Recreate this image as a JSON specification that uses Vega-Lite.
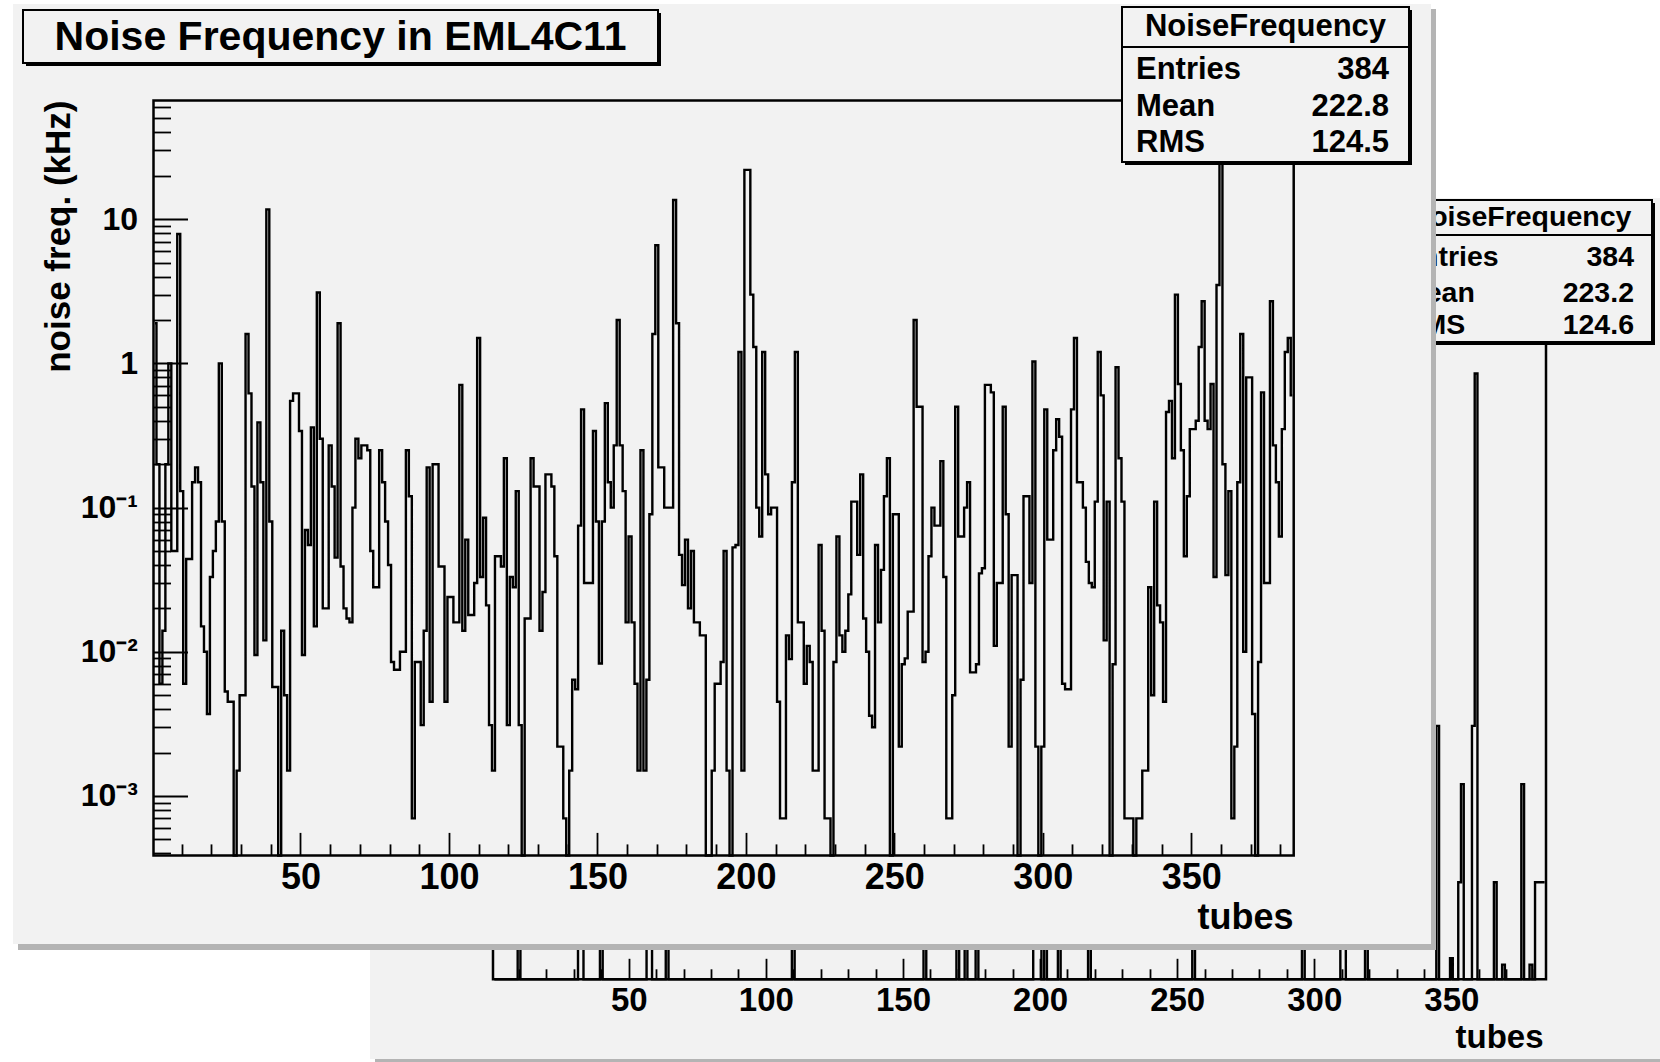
{
"$schema": "https://vega.github.io/schema/vega-lite/v6.json",
"width": 1660, "height": 1062, "autosize": {"type": "none"}, "padding": 0,
"background": "#ffffff",
"config": {"view": {"stroke": null}, "font": "Liberation Sans",
  "axis": {"labelFont": "Liberation Sans", "labelFontWeight": "bold", "labelColor": "#000", "titleFont": "Liberation Sans", "titleFontWeight": "bold", "titleColor": "#000", "tickColor": "#000", "tickWidth": 1.8, "domain": false, "grid": false, "labelOverlap": false, "labelFlush": false, "labelBound": false}},
"datasets": {
"front": [{"t":1,"v":1.9},{"t":2,"v":0.2},{"t":3,"v":0.006},{"t":4,"v":0.014},{"t":5,"v":0.2},{"t":6,"v":1.0},{"t":7,"v":0.05},{"t":8,"v":0.05},{"t":9,"v":7.9},{"t":10,"v":0.13},
{"t":11,"v":0.006},{"t":12,"v":0.044},{"t":13,"v":0.044},{"t":14,"v":0.15},{"t":15,"v":0.19},{"t":16,"v":0.15},{"t":17,"v":0.015},{"t":18,"v":0.01},{"t":19,"v":0.0037},{"t":20,"v":0.033},
{"t":21,"v":0.05},{"t":22,"v":0.08},{"t":23,"v":1.0},{"t":24,"v":0.08},{"t":25,"v":0.0053},{"t":26,"v":0.0045},{"t":27,"v":0.0045},{"t":28,"v":0.000387},{"t":29,"v":0.0015},{"t":30,"v":0.005},
{"t":31,"v":0.005},{"t":32,"v":1.6},{"t":33,"v":0.62},{"t":34,"v":0.14},{"t":35,"v":0.0095},{"t":36,"v":0.39},{"t":37,"v":0.15},{"t":38,"v":0.012},{"t":39,"v":11.7},{"t":40,"v":0.08},
{"t":41,"v":0.0057},{"t":42,"v":0.0057},{"t":43,"v":0.000387},{"t":44,"v":0.014},{"t":45,"v":0.005},{"t":46,"v":0.0015},{"t":47,"v":0.55},{"t":48,"v":0.62},{"t":49,"v":0.62},{"t":50,"v":0.34},
{"t":51,"v":0.0095},{"t":52,"v":0.07},{"t":53,"v":0.055},{"t":54,"v":0.36},{"t":55,"v":0.015},{"t":56,"v":3.1},{"t":57,"v":0.3},{"t":58,"v":0.02},{"t":59,"v":0.02},{"t":60,"v":0.27},
{"t":61,"v":0.14},{"t":62,"v":0.045},{"t":63,"v":1.9},{"t":64,"v":0.039},{"t":65,"v":0.02},{"t":66,"v":0.017},{"t":67,"v":0.016},{"t":68,"v":0.1},{"t":69,"v":0.3},{"t":70,"v":0.22},
{"t":71,"v":0.27},{"t":72,"v":0.27},{"t":73,"v":0.25},{"t":74,"v":0.05},{"t":75,"v":0.028},{"t":76,"v":0.028},{"t":77,"v":0.25},{"t":78,"v":0.15},{"t":79,"v":0.08},{"t":80,"v":0.04},
{"t":81,"v":0.0085},{"t":82,"v":0.0075},{"t":83,"v":0.0075},{"t":84,"v":0.01},{"t":85,"v":0.01},{"t":86,"v":0.25},{"t":87,"v":0.12},{"t":88,"v":0.0007},{"t":89,"v":0.0085},{"t":90,"v":0.0085},
{"t":91,"v":0.0031},{"t":92,"v":0.014},{"t":93,"v":0.19},{"t":94,"v":0.0045},{"t":95,"v":0.2},{"t":96,"v":0.2},{"t":97,"v":0.039},{"t":98,"v":0.039},{"t":99,"v":0.0045},{"t":100,"v":0.024},
{"t":101,"v":0.024},{"t":102,"v":0.016},{"t":103,"v":0.016},{"t":104,"v":0.71},{"t":105,"v":0.014},{"t":106,"v":0.06},{"t":107,"v":0.018},{"t":108,"v":0.018},{"t":109,"v":0.03},{"t":110,"v":1.5},
{"t":111,"v":0.033},{"t":112,"v":0.085},{"t":113,"v":0.021},{"t":114,"v":0.0031},{"t":115,"v":0.0015},{"t":116,"v":0.046},{"t":117,"v":0.046},{"t":118,"v":0.039},{"t":119,"v":0.22},{"t":120,"v":0.0031},
{"t":121,"v":0.033},{"t":122,"v":0.028},{"t":123,"v":0.13},{"t":124,"v":0.0031},{"t":125,"v":0.000387},{"t":126,"v":0.017},{"t":127,"v":0.017},{"t":128,"v":0.22},{"t":129,"v":0.14},{"t":130,"v":0.14},
{"t":131,"v":0.014},{"t":132,"v":0.026},{"t":133,"v":0.17},{"t":134,"v":0.17},{"t":135,"v":0.14},{"t":136,"v":0.046},{"t":137,"v":0.0022},{"t":138,"v":0.0022},{"t":139,"v":0.0007},{"t":140,"v":0.000387},
{"t":141,"v":0.0015},{"t":142,"v":0.0064},{"t":143,"v":0.0055},{"t":144,"v":0.075},{"t":145,"v":0.48},{"t":146,"v":0.03},{"t":147,"v":0.03},{"t":148,"v":0.03},{"t":149,"v":0.34},{"t":150,"v":0.08},
{"t":151,"v":0.0083},{"t":152,"v":0.08},{"t":153,"v":0.53},{"t":154,"v":0.15},{"t":155,"v":0.1},{"t":156,"v":0.27},{"t":157,"v":2.0},{"t":158,"v":0.27},{"t":159,"v":0.13},{"t":160,"v":0.016},
{"t":161,"v":0.063},{"t":162,"v":0.016},{"t":163,"v":0.006},{"t":164,"v":0.0015},{"t":165,"v":0.25},{"t":166,"v":0.0015},{"t":167,"v":0.0064},{"t":168,"v":0.09},{"t":169,"v":1.6},{"t":170,"v":6.6},
{"t":171,"v":0.19},{"t":172,"v":0.19},{"t":173,"v":0.1},{"t":174,"v":0.1},{"t":175,"v":0.1},{"t":176,"v":13.6},{"t":177,"v":1.9},{"t":178,"v":0.047},{"t":179,"v":0.029},{"t":180,"v":0.06},
{"t":181,"v":0.02},{"t":182,"v":0.05},{"t":183,"v":0.016},{"t":184,"v":0.016},{"t":185,"v":0.013},{"t":186,"v":0.013},{"t":187,"v":0.000387},{"t":188,"v":0.000387},{"t":189,"v":0.0015},{"t":190,"v":0.006},
{"t":191,"v":0.006},{"t":192,"v":0.0085},{"t":193,"v":0.05},{"t":194,"v":0.0015},{"t":195,"v":0.000387},{"t":196,"v":0.053},{"t":197,"v":0.055},{"t":198,"v":1.2},{"t":199,"v":0.0015},{"t":200,"v":22},
{"t":201,"v":22},{"t":202,"v":3.0},{"t":203,"v":1.3},{"t":204,"v":0.1},{"t":205,"v":0.063},{"t":206,"v":1.2},{"t":207,"v":0.17},{"t":208,"v":0.09},{"t":209,"v":0.1},{"t":210,"v":0.1},
{"t":211,"v":0.0045},{"t":212,"v":0.0007},{"t":213,"v":0.0007},{"t":214,"v":0.013},{"t":215,"v":0.0089},{"t":216,"v":0.15},{"t":217,"v":1.2},{"t":218,"v":0.016},{"t":219,"v":0.016},{"t":220,"v":0.006},
{"t":221,"v":0.011},{"t":222,"v":0.0085},{"t":223,"v":0.0015},{"t":224,"v":0.0015},{"t":225,"v":0.055},{"t":226,"v":0.014},{"t":227,"v":0.0007},{"t":228,"v":0.0007},{"t":229,"v":0.000387},{"t":230,"v":0.0085},
{"t":231,"v":0.063},{"t":232,"v":0.013},{"t":233,"v":0.01},{"t":234,"v":0.014},{"t":235,"v":0.025},{"t":236,"v":0.11},{"t":237,"v":0.11},{"t":238,"v":0.047},{"t":239,"v":0.17},{"t":240,"v":0.017},
{"t":241,"v":0.01},{"t":242,"v":0.0036},{"t":243,"v":0.003},{"t":244,"v":0.055},{"t":245,"v":0.016},{"t":246,"v":0.037},{"t":247,"v":0.12},{"t":248,"v":0.22},{"t":249,"v":0.000387},{"t":250,"v":0.09},
{"t":251,"v":0.09},{"t":252,"v":0.0022},{"t":253,"v":0.0082},{"t":254,"v":0.009},{"t":255,"v":0.019},{"t":256,"v":0.019},{"t":257,"v":2.0},{"t":258,"v":0.5},{"t":259,"v":0.5},{"t":260,"v":0.0085},
{"t":261,"v":0.01},{"t":262,"v":0.046},{"t":263,"v":0.1},{"t":264,"v":0.075},{"t":265,"v":0.075},{"t":266,"v":0.21},{"t":267,"v":0.033},{"t":268,"v":0.0007},{"t":269,"v":0.0007},{"t":270,"v":0.005},
{"t":271,"v":0.5},{"t":272,"v":0.063},{"t":273,"v":0.063},{"t":274,"v":0.1},{"t":275,"v":0.15},{"t":276,"v":0.0072},{"t":277,"v":0.0072},{"t":278,"v":0.0082},{"t":279,"v":0.035},{"t":280,"v":0.038},
{"t":281,"v":0.71},{"t":282,"v":0.71},{"t":283,"v":0.63},{"t":284,"v":0.011},{"t":285,"v":0.03},{"t":286,"v":0.03},{"t":287,"v":0.5},{"t":288,"v":0.09},{"t":289,"v":0.0022},{"t":290,"v":0.034},
{"t":291,"v":0.034},{"t":292,"v":0.000387},{"t":293,"v":0.0064},{"t":294,"v":0.12},{"t":295,"v":0.12},{"t":296,"v":0.03},{"t":297,"v":1.03},{"t":298,"v":0.0022},{"t":299,"v":0.000387},{"t":300,"v":0.0022},
{"t":301,"v":0.48},{"t":302,"v":0.06},{"t":303,"v":0.06},{"t":304,"v":0.25},{"t":305,"v":0.41},{"t":306,"v":0.31},{"t":307,"v":0.006},{"t":308,"v":0.0055},{"t":309,"v":0.0055},{"t":310,"v":0.48},
{"t":311,"v":1.5},{"t":312,"v":0.15},{"t":313,"v":0.15},{"t":314,"v":0.1},{"t":315,"v":0.042},{"t":316,"v":0.03},{"t":317,"v":0.028},{"t":318,"v":0.11},{"t":319,"v":1.2},{"t":320,"v":0.6},
{"t":321,"v":0.012},{"t":322,"v":0.11},{"t":323,"v":0.000387},{"t":324,"v":0.0082},{"t":325,"v":0.94},{"t":326,"v":0.22},{"t":327,"v":0.11},{"t":328,"v":0.0007},{"t":329,"v":0.0007},{"t":330,"v":0.0007},
{"t":331,"v":0.000387},{"t":332,"v":0.0007},{"t":333,"v":0.0007},{"t":334,"v":0.0015},{"t":335,"v":0.0015},{"t":336,"v":0.028},{"t":337,"v":0.005},{"t":338,"v":0.11},{"t":339,"v":0.021},{"t":340,"v":0.016},
{"t":341,"v":0.0045},{"t":342,"v":0.46},{"t":343,"v":0.55},{"t":344,"v":0.22},{"t":345,"v":3.0},{"t":346,"v":0.72},{"t":347,"v":0.25},{"t":348,"v":0.046},{"t":349,"v":0.12},{"t":350,"v":0.35},
{"t":351,"v":0.35},{"t":352,"v":0.4},{"t":353,"v":1.3},{"t":354,"v":2.7},{"t":355,"v":0.4},{"t":356,"v":0.35},{"t":357,"v":0.72},{"t":358,"v":0.033},{"t":359,"v":3.5},{"t":360,"v":30},
{"t":361,"v":0.2},{"t":362,"v":0.034},{"t":363,"v":0.13},{"t":364,"v":0.0007},{"t":365,"v":0.0022},{"t":366,"v":0.15},{"t":367,"v":1.6},{"t":368,"v":0.01},{"t":369,"v":0.8},{"t":370,"v":0.8},
{"t":371,"v":0.0037},{"t":372,"v":0.000387},{"t":373,"v":0.0085},{"t":374,"v":0.63},{"t":375,"v":0.03},{"t":376,"v":0.03},{"t":377,"v":2.7},{"t":378,"v":0.27},{"t":379,"v":0.15},{"t":380,"v":0.063},
{"t":381,"v":0.35},{"t":382,"v":1.2},{"t":383,"v":1.5},{"t":384,"v":0.6}],
"back": [{"t":1,"v":0.000387},{"t":2,"v":0.000387},{"t":3,"v":0.000387},{"t":4,"v":0.000387},{"t":5,"v":0.000387},{"t":6,"v":0.000387},{"t":7,"v":0.000387},{"t":8,"v":0.000387},{"t":9,"v":0.000387},{"t":10,"v":0.03},
{"t":11,"v":0.000387},{"t":12,"v":0.000387},{"t":13,"v":0.000387},{"t":14,"v":0.000387},{"t":15,"v":0.000387},{"t":16,"v":0.000387},{"t":17,"v":0.000387},{"t":18,"v":0.000387},{"t":19,"v":0.000387},{"t":20,"v":0.000387},
{"t":21,"v":0.000387},{"t":22,"v":0.000387},{"t":23,"v":0.000387},{"t":24,"v":0.000387},{"t":25,"v":0.000387},{"t":26,"v":0.000387},{"t":27,"v":0.000387},{"t":28,"v":0.000387},{"t":29,"v":0.000387},{"t":30,"v":0.000387},
{"t":31,"v":0.000387},{"t":32,"v":0.05},{"t":33,"v":0.02},{"t":34,"v":0.000387},{"t":35,"v":0.000387},{"t":36,"v":0.000387},{"t":37,"v":0.000387},{"t":38,"v":0.000387},{"t":39,"v":0.000387},{"t":40,"v":0.2},
{"t":41,"v":0.000387},{"t":42,"v":0.000387},{"t":43,"v":0.000387},{"t":44,"v":0.000387},{"t":45,"v":0.000387},{"t":46,"v":0.000387},{"t":47,"v":0.000387},{"t":48,"v":0.000387},{"t":49,"v":0.000387},{"t":50,"v":0.000387},
{"t":51,"v":0.000387},{"t":52,"v":0.000387},{"t":53,"v":0.000387},{"t":54,"v":0.000387},{"t":55,"v":0.000387},{"t":56,"v":0.000387},{"t":57,"v":0.03},{"t":58,"v":0.01},{"t":59,"v":0.000387},{"t":60,"v":0.000387},
{"t":61,"v":0.000387},{"t":62,"v":0.000387},{"t":63,"v":0.000387},{"t":64,"v":0.08},{"t":65,"v":0.000387},{"t":66,"v":0.000387},{"t":67,"v":0.000387},{"t":68,"v":0.000387},{"t":69,"v":0.000387},{"t":70,"v":0.000387},
{"t":71,"v":0.000387},{"t":72,"v":0.000387},{"t":73,"v":0.000387},{"t":74,"v":0.000387},{"t":75,"v":0.000387},{"t":76,"v":0.000387},{"t":77,"v":0.000387},{"t":78,"v":0.000387},{"t":79,"v":0.000387},{"t":80,"v":0.000387},
{"t":81,"v":0.000387},{"t":82,"v":0.000387},{"t":83,"v":0.000387},{"t":84,"v":0.000387},{"t":85,"v":0.000387},{"t":86,"v":0.000387},{"t":87,"v":0.000387},{"t":88,"v":0.000387},{"t":89,"v":0.000387},{"t":90,"v":0.000387},
{"t":91,"v":0.000387},{"t":92,"v":0.000387},{"t":93,"v":0.000387},{"t":94,"v":0.000387},{"t":95,"v":0.000387},{"t":96,"v":0.000387},{"t":97,"v":0.000387},{"t":98,"v":0.000387},{"t":99,"v":0.000387},{"t":100,"v":0.000387},
{"t":101,"v":0.000387},{"t":102,"v":0.000387},{"t":103,"v":0.000387},{"t":104,"v":0.000387},{"t":105,"v":0.000387},{"t":106,"v":0.000387},{"t":107,"v":0.000387},{"t":108,"v":0.000387},{"t":109,"v":0.000387},{"t":110,"v":0.4},
{"t":111,"v":0.000387},{"t":112,"v":0.000387},{"t":113,"v":0.000387},{"t":114,"v":0.000387},{"t":115,"v":0.000387},{"t":116,"v":0.000387},{"t":117,"v":0.000387},{"t":118,"v":0.000387},{"t":119,"v":0.000387},{"t":120,"v":0.000387},
{"t":121,"v":0.000387},{"t":122,"v":0.000387},{"t":123,"v":0.000387},{"t":124,"v":0.000387},{"t":125,"v":0.000387},{"t":126,"v":0.000387},{"t":127,"v":0.000387},{"t":128,"v":0.000387},{"t":129,"v":0.000387},{"t":130,"v":0.000387},
{"t":131,"v":0.000387},{"t":132,"v":0.000387},{"t":133,"v":0.000387},{"t":134,"v":0.000387},{"t":135,"v":0.000387},{"t":136,"v":0.000387},{"t":137,"v":0.000387},{"t":138,"v":0.000387},{"t":139,"v":0.000387},{"t":140,"v":0.000387},
{"t":141,"v":0.000387},{"t":142,"v":0.000387},{"t":143,"v":0.000387},{"t":144,"v":0.000387},{"t":145,"v":0.000387},{"t":146,"v":0.000387},{"t":147,"v":0.000387},{"t":148,"v":0.000387},{"t":149,"v":0.000387},{"t":150,"v":0.000387},
{"t":151,"v":0.000387},{"t":152,"v":0.000387},{"t":153,"v":0.000387},{"t":154,"v":0.000387},{"t":155,"v":0.000387},{"t":156,"v":0.000387},{"t":157,"v":0.000387},{"t":158,"v":0.05},{"t":159,"v":0.000387},{"t":160,"v":0.000387},
{"t":161,"v":0.000387},{"t":162,"v":0.000387},{"t":163,"v":0.000387},{"t":164,"v":0.000387},{"t":165,"v":0.000387},{"t":166,"v":0.000387},{"t":167,"v":0.000387},{"t":168,"v":0.000387},{"t":169,"v":0.000387},{"t":170,"v":0.02},
{"t":171,"v":0.000387},{"t":172,"v":0.000387},{"t":173,"v":0.01},{"t":174,"v":0.000387},{"t":175,"v":0.000387},{"t":176,"v":0.000387},{"t":177,"v":0.03},{"t":178,"v":0.000387},{"t":179,"v":0.000387},{"t":180,"v":0.000387},
{"t":181,"v":0.000387},{"t":182,"v":0.000387},{"t":183,"v":0.000387},{"t":184,"v":0.000387},{"t":185,"v":0.000387},{"t":186,"v":0.000387},{"t":187,"v":0.000387},{"t":188,"v":0.000387},{"t":189,"v":0.000387},{"t":190,"v":0.000387},
{"t":191,"v":0.000387},{"t":192,"v":0.000387},{"t":193,"v":0.000387},{"t":194,"v":0.000387},{"t":195,"v":0.000387},{"t":196,"v":0.000387},{"t":197,"v":0.000387},{"t":198,"v":0.02},{"t":199,"v":0.3},{"t":200,"v":0.01},
{"t":201,"v":0.000387},{"t":202,"v":0.05},{"t":203,"v":0.000387},{"t":204,"v":0.000387},{"t":205,"v":0.000387},{"t":206,"v":0.000387},{"t":207,"v":0.02},{"t":208,"v":0.000387},{"t":209,"v":0.000387},{"t":210,"v":0.000387},
{"t":211,"v":0.000387},{"t":212,"v":0.000387},{"t":213,"v":0.000387},{"t":214,"v":0.000387},{"t":215,"v":0.000387},{"t":216,"v":0.000387},{"t":217,"v":0.000387},{"t":218,"v":0.1},{"t":219,"v":0.000387},{"t":220,"v":0.000387},
{"t":221,"v":0.000387},{"t":222,"v":0.000387},{"t":223,"v":0.000387},{"t":224,"v":0.000387},{"t":225,"v":0.000387},{"t":226,"v":0.000387},{"t":227,"v":0.000387},{"t":228,"v":0.000387},{"t":229,"v":0.000387},{"t":230,"v":0.000387},
{"t":231,"v":0.000387},{"t":232,"v":0.000387},{"t":233,"v":0.000387},{"t":234,"v":0.000387},{"t":235,"v":0.000387},{"t":236,"v":0.000387},{"t":237,"v":0.000387},{"t":238,"v":0.000387},{"t":239,"v":0.000387},{"t":240,"v":0.000387},
{"t":241,"v":0.000387},{"t":242,"v":0.000387},{"t":243,"v":0.000387},{"t":244,"v":0.000387},{"t":245,"v":0.000387},{"t":246,"v":0.000387},{"t":247,"v":0.000387},{"t":248,"v":0.000387},{"t":249,"v":0.000387},{"t":250,"v":0.000387},
{"t":251,"v":0.000387},{"t":252,"v":0.000387},{"t":253,"v":0.000387},{"t":254,"v":0.000387},{"t":255,"v":0.000387},{"t":256,"v":0.04},{"t":257,"v":0.000387},{"t":258,"v":0.000387},{"t":259,"v":0.000387},{"t":260,"v":0.000387},
{"t":261,"v":0.000387},{"t":262,"v":0.000387},{"t":263,"v":0.000387},{"t":264,"v":0.000387},{"t":265,"v":0.000387},{"t":266,"v":0.000387},{"t":267,"v":0.000387},{"t":268,"v":0.000387},{"t":269,"v":0.000387},{"t":270,"v":0.000387},
{"t":271,"v":0.000387},{"t":272,"v":0.000387},{"t":273,"v":0.000387},{"t":274,"v":0.000387},{"t":275,"v":0.000387},{"t":276,"v":0.000387},{"t":277,"v":0.000387},{"t":278,"v":0.000387},{"t":279,"v":0.000387},{"t":280,"v":0.000387},
{"t":281,"v":0.000387},{"t":282,"v":0.000387},{"t":283,"v":0.000387},{"t":284,"v":0.000387},{"t":285,"v":0.000387},{"t":286,"v":0.000387},{"t":287,"v":0.000387},{"t":288,"v":0.000387},{"t":289,"v":0.000387},{"t":290,"v":0.000387},
{"t":291,"v":0.000387},{"t":292,"v":0.000387},{"t":293,"v":0.000387},{"t":294,"v":0.000387},{"t":295,"v":0.000387},{"t":296,"v":0.03},{"t":297,"v":0.000387},{"t":298,"v":0.000387},{"t":299,"v":0.000387},{"t":300,"v":0.000387},
{"t":301,"v":0.000387},{"t":302,"v":0.000387},{"t":303,"v":0.000387},{"t":304,"v":0.000387},{"t":305,"v":0.000387},{"t":306,"v":0.000387},{"t":307,"v":0.000387},{"t":308,"v":0.000387},{"t":309,"v":0.000387},{"t":310,"v":0.02},
{"t":311,"v":0.01},{"t":312,"v":0.000387},{"t":313,"v":0.000387},{"t":314,"v":0.000387},{"t":315,"v":0.000387},{"t":316,"v":0.000387},{"t":317,"v":0.000387},{"t":318,"v":0.000387},{"t":319,"v":0.05},{"t":320,"v":0.000387},
{"t":321,"v":0.000387},{"t":322,"v":0.000387},{"t":323,"v":0.000387},{"t":324,"v":0.000387},{"t":325,"v":0.000387},{"t":326,"v":0.000387},{"t":327,"v":0.000387},{"t":328,"v":0.000387},{"t":329,"v":0.000387},{"t":330,"v":0.000387},
{"t":331,"v":0.000387},{"t":332,"v":0.000387},{"t":333,"v":0.000387},{"t":334,"v":0.000387},{"t":335,"v":0.000387},{"t":336,"v":0.000387},{"t":337,"v":0.000387},{"t":338,"v":0.000387},{"t":339,"v":0.000387},{"t":340,"v":0.000387},
{"t":341,"v":0.000387},{"t":342,"v":0.000387},{"t":343,"v":0.000387},{"t":344,"v":0.000387},{"t":345,"v":0.032},{"t":346,"v":0.000387},{"t":347,"v":0.000387},{"t":348,"v":0.000387},{"t":349,"v":0.000387},{"t":350,"v":0.00056},
{"t":351,"v":0.000387},{"t":352,"v":0.000387},{"t":353,"v":0.0021},{"t":354,"v":0.0116},{"t":355,"v":0.000387},{"t":356,"v":0.000387},{"t":357,"v":0.000387},{"t":358,"v":0.032},{"t":359,"v":14.8},{"t":360,"v":0.000387},
{"t":361,"v":0.000387},{"t":362,"v":0.000387},{"t":363,"v":0.000387},{"t":364,"v":0.000387},{"t":365,"v":0.000387},{"t":366,"v":0.0021},{"t":367,"v":0.000387},{"t":368,"v":0.000387},{"t":369,"v":0.0005},{"t":370,"v":0.000387},
{"t":371,"v":0.000387},{"t":372,"v":0.000387},{"t":373,"v":0.000387},{"t":374,"v":0.000387},{"t":375,"v":0.000387},{"t":376,"v":0.0116},{"t":377,"v":0.000387},{"t":378,"v":0.000387},{"t":379,"v":0.0005},{"t":380,"v":0.000387},
{"t":381,"v":0.0021},{"t":382,"v":0.0021},{"t":383,"v":0.0021},{"t":384,"v":0.0021}],
"statsFront": [{"label":"Entries","value":"384"},{"label":"Mean","value":"222.8"},{"label":"RMS","value":"124.5"}],
"statsBack": [{"label":"Entries","value":"384"},{"label":"Mean","value":"223.2"},{"label":"RMS","value":"124.6"}]
},
"layer": [
{"data": {"values": [{}]},
 "layer": [
  {"mark": {"type": "rect", "fill": "#b4b4b4"},
   "encoding": {"x": {"datum": 0.003849, "type": "quantitative", "scale": {"domain": [-0.284834, 0.993072], "nice": false, "zero": false}, "axis": null}, "x2": {"datum": 1.003849},
                "y": {"datum": -0.005807, "type": "quantitative", "scale": {"domain": [-0.003484, 1.229965], "nice": false, "zero": false}, "axis": null}, "y2": {"datum": 0.994193}}},
  {"mark": {"type": "rect", "fill": "#f2f2f2"},
   "encoding": {"x": {"datum": 0, "type": "quantitative", "scale": {"domain": [-0.284834, 0.993072], "nice": false, "zero": false}, "axis": null}, "x2": {"datum": 1},
                "y": {"datum": 0, "type": "quantitative", "scale": {"domain": [-0.003484, 1.229965], "nice": false, "zero": false}, "axis": null}, "y2": {"datum": 1}}}
 ]},
{"data": {"name": "back"},
 "mark": {"type": "line", "interpolate": "step", "stroke": "#000", "strokeWidth": 2.4},
 "encoding": {
   "x": {"field": "t", "type": "quantitative", "scale": {"domain": [-179.28, 426.07], "nice": false, "zero": false},
         "axis": {"orient": "bottom", "offset": -82.7, "zindex": 1, "values": [10,20,30,40,50,60,70,80,90,100,110,120,130,140,150,160,170,180,190,200,210,220,230,240,250,260,270,280,290,300,310,320,330,340,350,360,370,380],
                  "format": "d", "labelExpr": "datum.value % 50 == 0 ? datum.label : ''",
                  "tickSize": {"condition": {"test": "datum.value % 50 == 0", "value": -21}, "value": -10.5},
                  "labelFontSize": 33, "labelPadding": 26,
                  "title": "tubes", "titleFontSize": 33, "titleX": 1543, "titleY": 57.7, "titleAlign": "right", "titleBaseline": "middle"}},
   "y": {"field": "v", "type": "quantitative", "scale": {"type": "log", "domain": [9.172e-5, 9901], "nice": false}, "axis": null}}},
{"data": {"values": [{}]},
 "mark": {"type": "rect", "fillOpacity": 0, "stroke": "#000", "strokeWidth": 2.5},
 "encoding": {"x": {"datum": 0.5, "type": "quantitative", "scale": {"domain": [-179.28, 426.07], "nice": false, "zero": false}, "axis": null}, "x2": {"datum": 384.5},
              "y": {"datum": 0.000387, "type": "quantitative", "scale": {"type": "log", "domain": [9.172e-5, 9901], "nice": false}, "axis": null}, "y2": {"datum": 67.4}}},
{"layer": [
  {"data": {"values": [{}]}, "mark": {"type": "rect", "fill": "#000"},
   "encoding": {"x": {"datum": 0.78676, "type": "quantitative", "scale": {"domain": [-0.284834, 0.993072], "nice": false, "zero": false}, "axis": null}, "x2": {"datum": 0.98922},
                "y": {"datum": 0.82927, "type": "quantitative", "scale": {"domain": [-0.003484, 1.229965], "nice": false, "zero": false}, "axis": null}, "y2": {"datum": 0.99419}}},
  {"data": {"values": [{}]}, "mark": {"type": "rect", "fill": "#f2f2f2", "stroke": "#000", "strokeWidth": 2},
   "encoding": {"x": {"datum": 0.78445, "type": "quantitative", "scale": {"domain": [-0.284834, 0.993072], "nice": false, "zero": false}, "axis": null}, "x2": {"datum": 0.98691},
                "y": {"datum": 0.83275, "type": "quantitative", "scale": {"domain": [-0.003484, 1.229965], "nice": false, "zero": false}, "axis": null}, "y2": {"datum": 0.99768}}},
  {"data": {"values": [{}]}, "mark": {"type": "rule", "stroke": "#000", "strokeWidth": 2},
   "encoding": {"x": {"datum": 0.78445, "type": "quantitative", "scale": {"domain": [-0.284834, 0.993072], "nice": false, "zero": false}, "axis": null}, "x2": {"datum": 0.98691},
                "y": {"datum": 0.95703, "type": "quantitative", "scale": {"domain": [-0.003484, 1.229965], "nice": false, "zero": false}, "axis": null}}},
  {"data": {"values": [{}]}, "mark": {"type": "text", "text": "NoiseFrequency", "font": "Liberation Sans", "fontWeight": "bold", "fontSize": 28.5, "align": "center", "baseline": "middle", "color": "#000"},
   "encoding": {"x": {"datum": 0.88568, "type": "quantitative", "scale": {"domain": [-0.284834, 0.993072], "nice": false, "zero": false}, "axis": null},
                "y": {"datum": 0.97793, "type": "quantitative", "scale": {"domain": [-0.003484, 1.229965], "nice": false, "zero": false}, "axis": null}}},
  {"data": {"name": "statsBack"}, "transform": [{"filter": "datum.label == 'Entries'"}],
   "layer": [
    {"mark": {"type": "text", "font": "Liberation Sans", "fontWeight": "bold", "fontSize": 28.5, "align": "left", "baseline": "middle", "color": "#000"},
     "encoding": {"x": {"datum": 0.79446, "type": "quantitative", "scale": {"domain": [-0.284834, 0.993072], "nice": false, "zero": false}, "axis": null},
                  "y": {"datum": 0.93148, "type": "quantitative", "scale": {"domain": [-0.003484, 1.229965], "nice": false, "zero": false}, "axis": null}, "text": {"field": "label"}}},
    {"mark": {"type": "text", "font": "Liberation Sans", "fontWeight": "bold", "fontSize": 28.5, "align": "right", "baseline": "middle", "color": "#000"},
     "encoding": {"x": {"datum": 0.97305, "type": "quantitative", "scale": {"domain": [-0.284834, 0.993072], "nice": false, "zero": false}, "axis": null},
                  "y": {"datum": 0.93148, "type": "quantitative", "scale": {"domain": [-0.003484, 1.229965], "nice": false, "zero": false}, "axis": null}, "text": {"field": "value"}}}
   ]},
  {"data": {"name": "statsBack"}, "transform": [{"filter": "datum.label == 'Mean'"}],
   "layer": [
    {"mark": {"type": "text", "font": "Liberation Sans", "fontWeight": "bold", "fontSize": 28.5, "align": "left", "baseline": "middle", "color": "#000"},
     "encoding": {"x": {"datum": 0.79446, "type": "quantitative", "scale": {"domain": [-0.284834, 0.993072], "nice": false, "zero": false}, "axis": null},
                  "y": {"datum": 0.88966, "type": "quantitative", "scale": {"domain": [-0.003484, 1.229965], "nice": false, "zero": false}, "axis": null}, "text": {"field": "label"}}},
    {"mark": {"type": "text", "font": "Liberation Sans", "fontWeight": "bold", "fontSize": 28.5, "align": "right", "baseline": "middle", "color": "#000"},
     "encoding": {"x": {"datum": 0.97305, "type": "quantitative", "scale": {"domain": [-0.284834, 0.993072], "nice": false, "zero": false}, "axis": null},
                  "y": {"datum": 0.88966, "type": "quantitative", "scale": {"domain": [-0.003484, 1.229965], "nice": false, "zero": false}, "axis": null}, "text": {"field": "value"}}}
   ]},
  {"data": {"name": "statsBack"}, "transform": [{"filter": "datum.label == 'RMS'"}],
   "layer": [
    {"mark": {"type": "text", "font": "Liberation Sans", "fontWeight": "bold", "fontSize": 28.5, "align": "left", "baseline": "middle", "color": "#000"},
     "encoding": {"x": {"datum": 0.79446, "type": "quantitative", "scale": {"domain": [-0.284834, 0.993072], "nice": false, "zero": false}, "axis": null},
                  "y": {"datum": 0.85250, "type": "quantitative", "scale": {"domain": [-0.003484, 1.229965], "nice": false, "zero": false}, "axis": null}, "text": {"field": "label"}}},
    {"mark": {"type": "text", "font": "Liberation Sans", "fontWeight": "bold", "fontSize": 28.5, "align": "right", "baseline": "middle", "color": "#000"},
     "encoding": {"x": {"datum": 0.97305, "type": "quantitative", "scale": {"domain": [-0.284834, 0.993072], "nice": false, "zero": false}, "axis": null},
                  "y": {"datum": 0.85250, "type": "quantitative", "scale": {"domain": [-0.003484, 1.229965], "nice": false, "zero": false}, "axis": null}, "text": {"field": "value"}}}
   ]}
 ]},
{"data": {"values": [{}]},
 "layer": [
  {"mark": {"type": "rect", "fill": "#b4b4b4"},
   "encoding": {"x": {"datum": 0.003526, "type": "quantitative", "scale": {"domain": [-0.009168, 1.161495], "nice": false, "zero": false}, "axis": null}, "x2": {"datum": 1.003526},
                "y": {"datum": -0.006383, "type": "quantitative", "scale": {"domain": [-0.125532, 1.004255], "nice": false, "zero": false}, "axis": null}, "y2": {"datum": 0.994681}}},
  {"mark": {"type": "rect", "fill": "#f2f2f2"},
   "encoding": {"x": {"datum": 0, "type": "quantitative", "scale": {"domain": [-0.009168, 1.161495], "nice": false, "zero": false}, "axis": null}, "x2": {"datum": 1},
                "y": {"datum": 0, "type": "quantitative", "scale": {"domain": [-0.125532, 1.004255], "nice": false, "zero": false}, "axis": null}, "y2": {"datum": 1}}}
 ]},
{"data": {"name": "front"},
 "mark": {"type": "line", "interpolate": "step", "stroke": "#000", "strokeWidth": 2.4},
 "encoding": {
   "x": {"field": "t", "type": "quantitative", "scale": {"domain": [-51.196, 507.86], "nice": false, "zero": false},
         "axis": {"orient": "bottom", "offset": -206.6, "zindex": 1, "values": [10,20,30,40,50,60,70,80,90,100,110,120,130,140,150,160,170,180,190,200,210,220,230,240,250,260,270,280,290,300,310,320,330,340,350,360,370,380],
                  "format": "d", "labelExpr": "datum.value % 50 == 0 ? datum.label : ''",
                  "tickSize": {"condition": {"test": "datum.value % 50 == 0", "value": -23}, "value": -11.5},
                  "labelFontSize": 36, "labelPadding": 28,
                  "title": "tubes", "titleFontSize": 36, "titleX": 1293, "titleY": 62, "titleAlign": "right", "titleBaseline": "middle"}},
   "y": {"field": "v", "type": "quantitative", "scale": {"type": "log", "domain": [1.4297e-5, 331.25], "nice": false},
         "axis": {"orient": "left", "offset": -153.5, "zindex": 1,
                  "values": [0.0004,0.0005,0.0006,0.0007,0.0008,0.0009,0.001,0.002,0.003,0.004,0.005,0.006,0.007,0.008,0.009,0.01,0.02,0.03,0.04,0.05,0.06,0.07,0.08,0.09,0.1,0.2,0.3,0.4,0.5,0.6,0.7,0.8,0.9,1,2,3,4,5,6,7,8,9,10,20,30,40,50,60],
                  "labelExpr": "datum.value == 10 ? '10' : datum.value == 1 ? '1' : datum.value == 0.1 ? '10⁻¹' : datum.value == 0.01 ? '10⁻²' : datum.value == 0.001 ? '10⁻³' : ''",
                  "tickSize": {"condition": {"test": "datum.value == 10 || datum.value == 1 || datum.value == 0.1 || datum.value == 0.01 || datum.value == 0.001", "value": -34}, "value": -17},
                  "labelFontSize": 32, "labelPadding": 50,
                  "title": "noise freq. (kHz)", "titleFontSize": 35, "titleX": -95.5, "titleY": 100, "titleAngle": 270, "titleAlign": "right", "titleBaseline": "middle"}}}},
{"data": {"values": [{}]},
 "mark": {"type": "rect", "fillOpacity": 0, "stroke": "#000", "strokeWidth": 2.5},
 "encoding": {"x": {"datum": 0.5, "type": "quantitative", "scale": {"domain": [-51.196, 507.86], "nice": false, "zero": false}, "axis": null}, "x2": {"datum": 384.5},
              "y": {"datum": 0.000387, "type": "quantitative", "scale": {"type": "log", "domain": [1.4297e-5, 331.25], "nice": false}, "axis": null}, "y2": {"datum": 66.45}}},
{"layer": [
  {"data": {"values": [{}]}, "mark": {"type": "rect", "fill": "#000"},
   "encoding": {"x": {"datum": 0.009168, "type": "quantitative", "scale": {"domain": [-0.009168, 1.161495], "nice": false, "zero": false}, "axis": null}, "x2": {"datum": 0.456982},
                "y": {"datum": 0.934043, "type": "quantitative", "scale": {"domain": [-0.125532, 1.004255], "nice": false, "zero": false}, "axis": null}, "y2": {"datum": 0.990426}}},
  {"data": {"values": [{}]}, "mark": {"type": "rect", "fill": "#f2f2f2", "stroke": "#000", "strokeWidth": 2},
   "encoding": {"x": {"datum": 0.007052, "type": "quantitative", "scale": {"domain": [-0.009168, 1.161495], "nice": false, "zero": false}, "axis": null}, "x2": {"datum": 0.454866},
                "y": {"datum": 0.937234, "type": "quantitative", "scale": {"domain": [-0.125532, 1.004255], "nice": false, "zero": false}, "axis": null}, "y2": {"datum": 0.993617}}},
  {"data": {"values": [{}]}, "mark": {"type": "text", "text": "Noise Frequency in EML4C11", "font": "Liberation Sans", "fontWeight": "bold", "fontSize": 41, "align": "center", "baseline": "middle", "color": "#000"},
   "encoding": {"x": {"datum": 0.230959, "type": "quantitative", "scale": {"domain": [-0.009168, 1.161495], "nice": false, "zero": false}, "axis": null},
                "y": {"datum": 0.963830, "type": "quantitative", "scale": {"domain": [-0.125532, 1.004255], "nice": false, "zero": false}, "axis": null}}},
  {"data": {"values": [{}]}, "mark": {"type": "rect", "fill": "#000"},
   "encoding": {"x": {"datum": 0.784203, "type": "quantitative", "scale": {"domain": [-0.009168, 1.161495], "nice": false, "zero": false}, "axis": null}, "x2": {"datum": 0.986601},
                "y": {"datum": 0.828723, "type": "quantitative", "scale": {"domain": [-0.125532, 1.004255], "nice": false, "zero": false}, "axis": null}, "y2": {"datum": 0.993617}}},
  {"data": {"values": [{}]}, "mark": {"type": "rect", "fill": "#f2f2f2", "stroke": "#000", "strokeWidth": 2},
   "encoding": {"x": {"datum": 0.782087, "type": "quantitative", "scale": {"domain": [-0.009168, 1.161495], "nice": false, "zero": false}, "axis": null}, "x2": {"datum": 0.984485},
                "y": {"datum": 0.831915, "type": "quantitative", "scale": {"domain": [-0.125532, 1.004255], "nice": false, "zero": false}, "axis": null}, "y2": {"datum": 0.996809}}},
  {"data": {"values": [{}]}, "mark": {"type": "rule", "stroke": "#000", "strokeWidth": 2},
   "encoding": {"x": {"datum": 0.782087, "type": "quantitative", "scale": {"domain": [-0.009168, 1.161495], "nice": false, "zero": false}, "axis": null}, "x2": {"datum": 0.984485},
                "y": {"datum": 0.954255, "type": "quantitative", "scale": {"domain": [-0.125532, 1.004255], "nice": false, "zero": false}, "axis": null}}},
  {"data": {"values": [{}]}, "mark": {"type": "text", "text": "NoiseFrequency", "font": "Liberation Sans", "fontWeight": "bold", "fontSize": 31, "align": "center", "baseline": "middle", "color": "#000"},
   "encoding": {"x": {"datum": 0.883286, "type": "quantitative", "scale": {"domain": [-0.009168, 1.161495], "nice": false, "zero": false}, "axis": null},
                "y": {"datum": 0.975532, "type": "quantitative", "scale": {"domain": [-0.125532, 1.004255], "nice": false, "zero": false}, "axis": null}}},
  {"data": {"name": "statsFront"}, "transform": [{"filter": "datum.label == 'Entries'"}],
   "layer": [
    {"mark": {"type": "text", "font": "Liberation Sans", "fontWeight": "bold", "fontSize": 31, "align": "left", "baseline": "middle", "color": "#000"},
     "encoding": {"x": {"datum": 0.791961, "type": "quantitative", "scale": {"domain": [-0.009168, 1.161495], "nice": false, "zero": false}, "axis": null},
                  "y": {"datum": 0.929787, "type": "quantitative", "scale": {"domain": [-0.125532, 1.004255], "nice": false, "zero": false}, "axis": null}, "text": {"field": "label"}}},
    {"mark": {"type": "text", "font": "Liberation Sans", "fontWeight": "bold", "fontSize": 31, "align": "right", "baseline": "middle", "color": "#000"},
     "encoding": {"x": {"datum": 0.970381, "type": "quantitative", "scale": {"domain": [-0.009168, 1.161495], "nice": false, "zero": false}, "axis": null},
                  "y": {"datum": 0.929787, "type": "quantitative", "scale": {"domain": [-0.125532, 1.004255], "nice": false, "zero": false}, "axis": null}, "text": {"field": "value"}}}
   ]},
  {"data": {"name": "statsFront"}, "transform": [{"filter": "datum.label == 'Mean'"}],
   "layer": [
    {"mark": {"type": "text", "font": "Liberation Sans", "fontWeight": "bold", "fontSize": 31, "align": "left", "baseline": "middle", "color": "#000"},
     "encoding": {"x": {"datum": 0.791961, "type": "quantitative", "scale": {"domain": [-0.009168, 1.161495], "nice": false, "zero": false}, "axis": null},
                  "y": {"datum": 0.890426, "type": "quantitative", "scale": {"domain": [-0.125532, 1.004255], "nice": false, "zero": false}, "axis": null}, "text": {"field": "label"}}},
    {"mark": {"type": "text", "font": "Liberation Sans", "fontWeight": "bold", "fontSize": 31, "align": "right", "baseline": "middle", "color": "#000"},
     "encoding": {"x": {"datum": 0.970381, "type": "quantitative", "scale": {"domain": [-0.009168, 1.161495], "nice": false, "zero": false}, "axis": null},
                  "y": {"datum": 0.890426, "type": "quantitative", "scale": {"domain": [-0.125532, 1.004255], "nice": false, "zero": false}, "axis": null}, "text": {"field": "value"}}}
   ]},
  {"data": {"name": "statsFront"}, "transform": [{"filter": "datum.label == 'RMS'"}],
   "layer": [
    {"mark": {"type": "text", "font": "Liberation Sans", "fontWeight": "bold", "fontSize": 31, "align": "left", "baseline": "middle", "color": "#000"},
     "encoding": {"x": {"datum": 0.791961, "type": "quantitative", "scale": {"domain": [-0.009168, 1.161495], "nice": false, "zero": false}, "axis": null},
                  "y": {"datum": 0.852128, "type": "quantitative", "scale": {"domain": [-0.125532, 1.004255], "nice": false, "zero": false}, "axis": null}, "text": {"field": "label"}}},
    {"mark": {"type": "text", "font": "Liberation Sans", "fontWeight": "bold", "fontSize": 31, "align": "right", "baseline": "middle", "color": "#000"},
     "encoding": {"x": {"datum": 0.970381, "type": "quantitative", "scale": {"domain": [-0.009168, 1.161495], "nice": false, "zero": false}, "axis": null},
                  "y": {"datum": 0.852128, "type": "quantitative", "scale": {"domain": [-0.125532, 1.004255], "nice": false, "zero": false}, "axis": null}, "text": {"field": "value"}}}
   ]}
 ]}
],
"resolve": {"scale": {"x": "independent", "y": "independent"}}
}
